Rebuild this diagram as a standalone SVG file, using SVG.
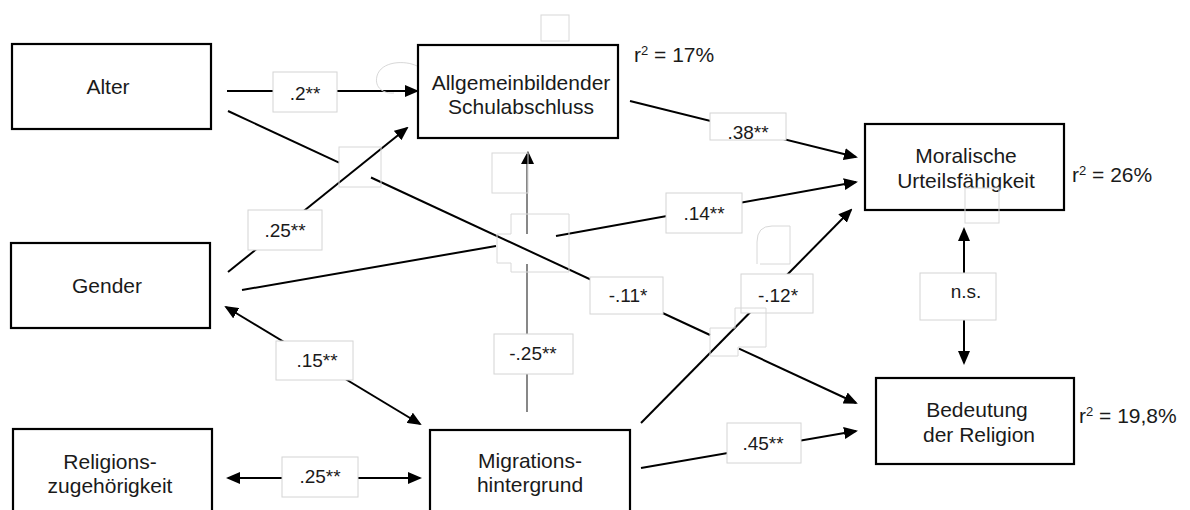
<svg xmlns="http://www.w3.org/2000/svg" width="1190" height="510" viewBox="0 0 1190 510">
<defs>
<marker id="ah" markerUnits="userSpaceOnUse" markerWidth="14" markerHeight="12" refX="12" refY="6" orient="auto-start-reverse">
<path d="M0,0 L14,6 L0,12 Z" fill="#000"/>
</marker>
<style>
.box{fill:#fff;stroke:#000;stroke-width:2.2}
.nt{font-family:"Liberation Sans",Arial,sans-serif;font-size:21px;fill:#1a1a1a;text-anchor:middle}
.rt{font-family:"Liberation Sans",Arial,sans-serif;font-size:21px;fill:#1a1a1a}
.sup{font-size:13px}
.ln{stroke:#000;stroke-width:2;fill:none}
.thin{stroke:#555;stroke-width:1.4;fill:none}
.lb{fill:#fff;stroke:#d4d4d4;stroke-width:1}
.lt{font-family:"Liberation Sans",Arial,sans-serif;font-size:19px;fill:#1a1a1a;text-anchor:middle}
.fa{fill:none;stroke:#d8d8d8;stroke-width:1}
</style>
</defs>
<rect width="1190" height="510" fill="#fff"/>

<g id="connectors">
<!-- Alter -> Allgemein -->
<line class="ln" x1="227" y1="91" x2="417" y2="91" marker-end="url(#ah)"/>
<!-- Alter -> Bedeutung (with gaps) -->
<line class="ln" x1="228" y1="111" x2="339" y2="162.6"/>
<line class="ln" x1="371" y1="177.5" x2="710" y2="335"/>
<line class="ln" x1="739" y1="348.6" x2="856" y2="403" marker-end="url(#ah)"/>
<!-- Gender -> Allgemein -->
<line class="ln" x1="228" y1="272" x2="407" y2="128" marker-end="url(#ah)"/>
<!-- Gender -> Moralische -->
<line class="ln" x1="242" y1="290" x2="496" y2="246"/>
<line class="ln" x1="556" y1="236" x2="856" y2="182" marker-end="url(#ah)"/>
<!-- Allgemein -> Moralische -->
<line class="ln" x1="630" y1="101" x2="856" y2="157" marker-end="url(#ah)"/>
<!-- Migration -> Allgemein -->
<line class="thin" x1="527" y1="412" x2="527" y2="264"/>
<line class="thin" x1="527" y1="234" x2="527" y2="156"/>
<path d="M521,164 L528,151 L534,164 Z" fill="#000"/>
<!-- Migration -> Moralische -->
<line class="ln" x1="641" y1="423" x2="851" y2="210" marker-end="url(#ah)"/>
<!-- Migration -> Bedeutung -->
<line class="ln" x1="641" y1="468" x2="856" y2="431" marker-end="url(#ah)"/>
<!-- Moralische <-> Bedeutung -->
<line class="ln" x1="964" y1="229" x2="964" y2="363" marker-start="url(#ah)" marker-end="url(#ah)"/>
<!-- Gender <-> Migration -->
<line class="ln" x1="226" y1="307" x2="420" y2="424" marker-start="url(#ah)" marker-end="url(#ah)"/>
<!-- Religion <-> Migration -->
<line class="ln" x1="228" y1="478" x2="420" y2="478" marker-start="url(#ah)" marker-end="url(#ah)"/>

<g id="edge-labels">
<rect class="lb" x="273" y="72" width="64" height="40"/><text class="lt" x="305" y="100">.2**</text>
<rect class="lb" x="248" y="210" width="74" height="40"/><text class="lt" x="285" y="237">.25**</text>
<rect class="lb" x="710" y="113" width="76" height="27"/><text class="lt" x="748" y="139">.38**</text>
<rect class="lb" x="666" y="193" width="76" height="40"/><text class="lt" x="704" y="220">.14**</text>
<rect class="lb" x="590" y="277" width="73" height="37"/><text class="lt" x="628" y="302">-.11*</text>
<rect class="lb" x="741" y="274" width="72" height="39"/><text class="lt" x="778" y="302">-.12*</text>
<rect class="lb" x="920" y="273" width="76" height="47"/><text class="lt" x="966" y="298">n.s.</text>
<rect class="lb" x="727" y="423" width="74" height="40"/><text class="lt" x="763" y="450">.45**</text>
<rect class="lb" x="494" y="334" width="79" height="40"/><text class="lt" x="533" y="360">-.25**</text>
<rect class="lb" x="276" y="341" width="77" height="39"/><text class="lt" x="317" y="367">.15**</text>
<rect class="lb" x="282" y="457" width="76" height="40"/><text class="lt" x="320" y="483">.25**</text>
</g>
</g>

<g id="artifacts">
<rect class="fa" x="541" y="15" width="28" height="26"/>
<path class="fa" d="M417,66 C405,60 381,61 377,76 C374,88 384,94 394,93"/>
<rect class="fa" x="339" y="147" width="42" height="40"/>
<rect class="fa" x="492" y="153" width="36" height="40"/>
<path class="fa" d="M511,214 H569 V272 H511 V263 H497 V234 H511 Z"/>
<path class="fa" d="M735,308 H766 V347 H738 V356 H710 V328 H735 Z"/>
<path class="fa" d="M760,264 H790 V226 H772 Q757,226 757,242 V264"/>
</g>

<g id="node-alter">
<rect class="box" x="12" y="44" width="199" height="85"/>
<text class="nt" x="108" y="94">Alter</text>
</g>
<g id="node-allgemein">
<rect class="box" x="418" y="45" width="200" height="93"/>
<text class="nt" x="521" y="90">Allgemeinbildender</text>
<text class="nt" x="521" y="114">Schulabschluss</text>
</g>
<g id="node-gender">
<rect class="box" x="11" y="243" width="199" height="85"/>
<text class="nt" x="107" y="293">Gender</text>
</g>
<g id="node-moralische">
<rect class="box" x="865" y="124" width="199" height="86"/>
<text class="nt" x="966" y="163">Moralische</text>
<text class="nt" x="966" y="188">Urteilsfähigkeit</text>
</g>
<rect class="fa" x="965" y="188" width="34" height="35"/>
<g id="node-bedeutung">
<rect class="box" x="876" y="378" width="198" height="86"/>
<text class="nt" x="977" y="417">Bedeutung</text>
<text class="nt" x="979" y="442">der Religion</text>
</g>
<g id="node-religion">
<rect class="box" x="13" y="429" width="199" height="95"/>
<text class="nt" x="110" y="469">Religions-</text>
<text class="nt" x="110" y="493">zugehörigkeit</text>
</g>
<g id="node-migration">
<rect class="box" x="430" y="430" width="200" height="95"/>
<text class="nt" x="530" y="468">Migrations-</text>
<text class="nt" x="530" y="492">hintergrund</text>
</g>

<g id="r2-labels">
<text class="rt" x="634" y="62">r<tspan class="sup" dy="-7">2</tspan><tspan dy="7"> = 17%</tspan></text>
<text class="rt" x="1072" y="182">r<tspan class="sup" dy="-7">2</tspan><tspan dy="7"> = 26%</tspan></text>
<text class="rt" x="1079" y="423">r<tspan class="sup" dy="-7">2</tspan><tspan dy="7"> = 19,8%</tspan></text>
</g>
</svg>
